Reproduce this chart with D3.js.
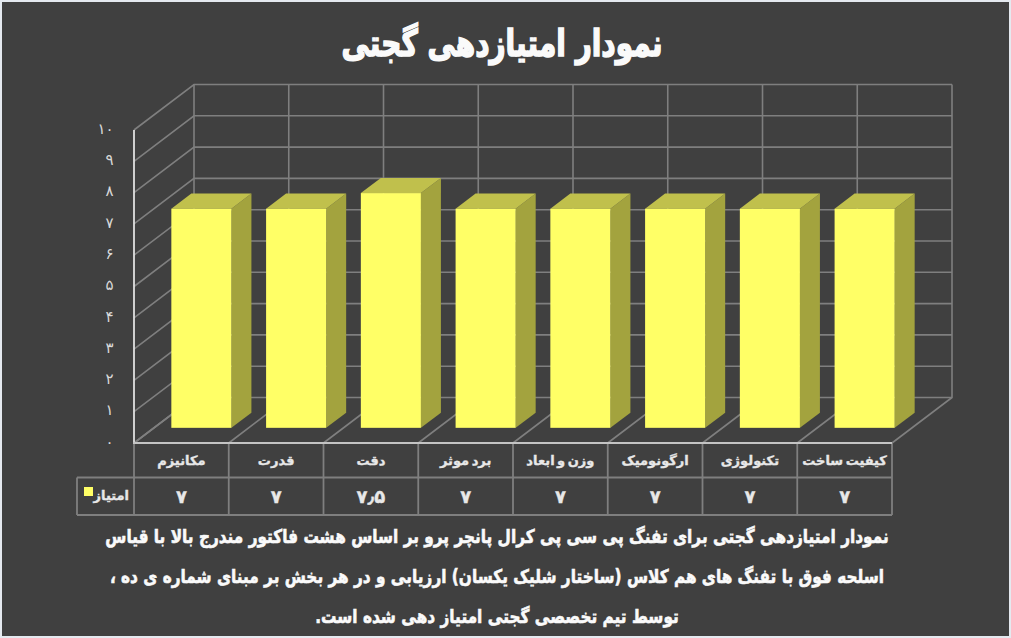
<!DOCTYPE html>
<html lang="fa"><head><meta charset="utf-8">
<script src="https://cdn.jsdelivr.net/npm/d3@7"></script>
<style>html,body{margin:0;padding:0;background:#404040;overflow:hidden}svg{display:block}</style>
</head><body><svg id="c" width="1011" height="638"></svg>
<script>
const categories=["مکانیزم","قدرت","دقت","برد موثر","وزن و ابعاد","ارگونومیک","تکنولوژی","کیفیت ساخت"];
const scores=[7,7,7.5,7,7,7,7,7];
const scoreLabels=["۷","۷","۷٫۵","۷","۷","۷","۷","۷"];
const yTicks=[0,1,2,3,4,5,6,7,8,9,10];
const persianDigits=["۰","۱","۲","۳","۴","۵","۶","۷","۸","۹","۱۰"];
const seriesName="امتیاز";
const titleText="نمودار امتیازدهی گجتی";
const captionLines=["نمودار امتیازدهی گجتی برای تفنگ پی سی پی کرال پانچر پرو بر اساس هشت فاکتور مندرج بالا با قیاس","اسلحه فوق با تفنگ های هم کلاس (ساختار شلیک یکسان) ارزیابی و در هر بخش بر مبنای شماره ی ده ،","توسط تیم تخصصی گجتی امتیاز دهی شده است."];

const FONT="'DejaVu Sans','Noto Sans',sans-serif";
const svg=d3.select("#c");
svg.append("rect").attr("x",0).attr("y",0).attr("width",1011).attr("height",638).attr("fill","#e4e9ef");
svg.append("rect").attr("x",2).attr("y",2).attr("width",1007).attr("height",634).attr("fill","#404040");

const x=d3.scaleBand().domain(categories).range([134,892]).paddingInner(0.366).paddingOuter(0.183);
const y=d3.scaleLinear().domain([0,10]).range([443,130]);
const depthX=d3.scaleLinear().domain([0,1]).range([0,60]);
const depthY=d3.scaleLinear().domain([0,1]).range([0,-45.5]);
const G="#7f7f7f";
const grid=svg.append("g").attr("fill","none").attr("stroke",G).attr("stroke-width",1.6);
yTicks.forEach(t=>{
  grid.append("path").attr("d",`M${x.range()[0]},${y(t)}L${x.range()[0]+depthX(1)},${y(t)+depthY(1)}H${x.range()[1]+depthX(1)}`);
});
const edges=[...categories.map(c=>x(c)-x.step()*0.183),x.range()[1]];
edges.forEach(e=>{
  grid.append("path").attr("d",`M${e},${y(0)}L${e+depthX(1)},${y(0)+depthY(1)}V${y(10)+depthY(1)}`);
});
svg.append("line").attr("x1",134).attr("x2",134).attr("y1",y(10)).attr("y2",y(0)).attr("stroke","#e0e0e0").attr("stroke-width",1.8);

const bars=svg.append("g").selectAll("g").data(categories).join("g");
const z0=1/3,z1=2/3;
bars.each(function(c,i){
  const g=d3.select(this),v=scores[i];
  const xl=x(c)+depthX(z0),xr=xl+x.bandwidth();
  const b=y(0)+depthY(z0),t=y(v)+depthY(z0);
  const dx=depthX(z1-z0),dy=depthY(z1-z0);
  g.append("path").attr("fill","#a3a33e").attr("d",`M${xr},${t}L${xr+dx},${t+dy}V${b+dy}L${xr},${b}Z`);
  g.append("path").attr("fill","#c0c04c").attr("d",`M${xl},${t}L${xl+dx},${t+dy}H${xr+dx}L${xr},${t}Z`);
  g.append("rect").attr("x",xl).attr("y",t).attr("width",x.bandwidth()).attr("height",b-t).attr("fill","#ffff66");
});

svg.append("g").selectAll("text").data(yTicks).join("text")
  .attr("x",113.5).attr("y",d=>y(d)-1.5).attr("dy","0.35em").attr("text-anchor","end")
  .attr("fill","#d9d9d9").attr("font-family",FONT).attr("font-size",15).text((d,i)=>persianDigits[i]);

// data table
const rows=[443,477.5,515];
const tbl=svg.append("g").attr("fill","none").attr("stroke",G).attr("stroke-width",1.8);
tbl.append("path").attr("d",`M77,${rows[1]}H892M77,${rows[2]}H892M77,${rows[1]}V${rows[2]}`);
edges.forEach(e=>tbl.append("path").attr("d",`M${e},${rows[0]}V${rows[2]}`));
tbl.append("path").attr("d",`M133,${rows[0]}H892`).attr("stroke","#c4c4c4");
const step=x.step();
const txt=svg.append("g").attr("fill","#e8e8e8").attr("stroke","#e8e8e8").attr("font-family",FONT).attr("font-weight","bold").attr("text-anchor","middle");
categories.forEach((c,i)=>{
  const cx=edges[i]+step/2;
  txt.append("text").attr("x",cx).attr("y",465).attr("font-size",13).attr("stroke-width",0.35).attr("word-spacing",-2).attr("direction","rtl").text(c);
  txt.append("text").attr("x",cx).attr("y",503).attr("font-size",18).attr("stroke-width",0.3).text(scoreLabels[i]);
});
svg.append("rect").attr("x",84).attr("y",487).attr("width",9).attr("height",9).attr("fill","#ffff66");
txt.append("text").attr("x",129).attr("y",500).attr("text-anchor","start").attr("font-size",13).attr("stroke-width",0.35).attr("direction","rtl").text(seriesName);

svg.append("text").attr("transform","translate(502,56) scale(0.8,1.05)").attr("text-anchor","middle").attr("direction","rtl")
  .attr("fill","#fafafa").attr("stroke","#fafafa").attr("stroke-width",1.5).attr("font-family",FONT).attr("font-weight","bold").attr("font-size",35).text(titleText);
svg.append("g").selectAll("text").data(captionLines).join("text")
  .attr("transform",(d,i)=>`translate(497,${543+i*40}) scale(0.807,1)`).attr("text-anchor","middle").attr("direction","rtl")
  .attr("fill","#fafafa").attr("stroke","#fafafa").attr("stroke-width",0.6).attr("font-family",FONT).attr("font-weight","bold").attr("font-size",19).text(d=>d);
</script></body></html>
